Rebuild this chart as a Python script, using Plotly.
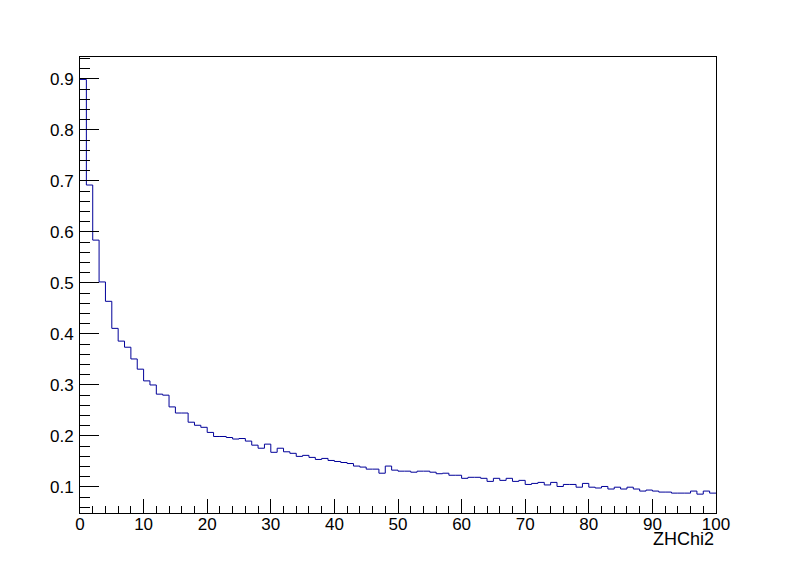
import plotly.graph_objects as go
import numpy as np

# Histogram "ZHChi2": 100 bins of width 1 from 0 to 100
bin_low = 0
bin_high = 100
bin_contents = [
    0.899, 0.692, 0.584, 0.502, 0.464, 0.411, 0.386, 0.374, 0.351, 0.331,
    0.308, 0.300, 0.282, 0.280, 0.257, 0.245, 0.245, 0.227, 0.221, 0.217,
    0.207, 0.199, 0.199, 0.197, 0.194, 0.195, 0.190, 0.182, 0.176, 0.184,
    0.168, 0.176, 0.169, 0.166, 0.160, 0.162, 0.158, 0.154, 0.156, 0.152,
    0.150, 0.148, 0.146, 0.141, 0.139, 0.135, 0.135, 0.127, 0.141, 0.133,
    0.131, 0.131, 0.129, 0.131, 0.131, 0.129, 0.126, 0.127, 0.123, 0.123,
    0.117, 0.119, 0.119, 0.117, 0.111, 0.117, 0.113, 0.117, 0.111, 0.113,
    0.105, 0.107, 0.109, 0.104, 0.109, 0.101, 0.105, 0.105, 0.0996, 0.107,
    0.0996, 0.098, 0.101, 0.096, 0.0996, 0.096, 0.0996, 0.096, 0.092, 0.094,
    0.092, 0.090, 0.090, 0.088, 0.088, 0.088, 0.092, 0.086, 0.092, 0.088,
]
x_title = "ZHChi2"

n_bins = len(bin_contents)
edges = np.linspace(bin_low, bin_high, n_bins + 1)
y_step = list(bin_contents) + [bin_contents[-1]]

LINE_COLOR = "#000099"
FONT = "Liberation Sans, Arial, Helvetica, sans-serif"
FS = 17

fig = go.Figure()
fig.add_trace(go.Scatter(
    x=edges, y=y_step, mode="lines", line_shape="hv",
    line=dict(color=LINE_COLOR, width=1), showlegend=False,
    hoverinfo="skip",
))

fig.update_layout(
    width=796, height=572,
    margin=dict(l=80, r=80, t=57, b=59, pad=0),
    paper_bgcolor="white", plot_bgcolor="white",
    font=dict(family=FONT, size=FS, color="black"),
    showlegend=False,
)

fig.update_xaxes(
    range=[bin_low, bin_high], showgrid=False, zeroline=False, automargin=False,
    showline=True, linecolor="black", linewidth=1, mirror=True,
    ticks="inside", ticklen=14, tickwidth=1, tickcolor="black",
    tick0=0, dtick=10,
    minor=dict(ticks="inside", ticklen=7, tickwidth=1, tickcolor="black", dtick=2, showgrid=False),
    tickfont=dict(family=FONT, size=FS, color="black"),
    ticklabelstandoff=-4,
)
fig.update_yaxes(
    range=[0.049, 0.943], showgrid=False, zeroline=False, automargin=False,
    showline=True, linecolor="black", linewidth=1, mirror=True,
    ticks="inside", ticklen=19, tickwidth=1, tickcolor="black",
    tick0=0, dtick=0.1, tickformat=".1f",
    minor=dict(ticks="inside", ticklen=10, tickwidth=1, tickcolor="black", dtick=0.02, showgrid=False),
    tickfont=dict(family=FONT, size=FS, color="black"),
    ticklabelstandoff=2,
)

fig.add_annotation(
    text=x_title, xref="paper", yref="paper", x=1, y=0,
    xanchor="right", yanchor="top", yshift=-14, showarrow=False,
    font=dict(family=FONT, size=18, color="black"),
)

fig.write_html(
    "out.html",
    config={"displayModeBar": False, "staticPlot": True},
    post_script="document.body.style.margin='0px';document.body.style.overflow='hidden';",
)
